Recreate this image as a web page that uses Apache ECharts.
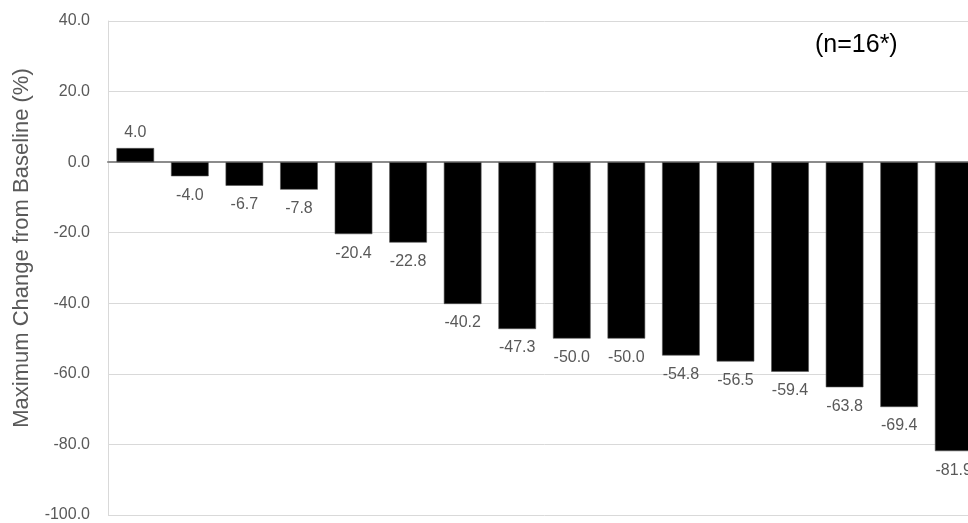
<!DOCTYPE html>
<html>
<head>
<meta charset="utf-8">
<script src="https://cdn.jsdelivr.net/npm/echarts@6/dist/echarts.min.js"></script>
<style>
html,body{margin:0;padding:0;background:#fff;overflow:hidden;width:968px;height:523px;}
#chart{width:982px;height:523px;}
</style>
</head>
<body>
<div id="chart"></div>
<script>
const patients = ['1','2','3','4','5','6','7','8','9','10','11','12','13','14','15','16'];
const changes = [4.0, -4.0, -6.7, -7.8, -20.4, -22.8, -40.2, -47.3, -50.0, -50.0, -54.8, -56.5, -59.4, -63.8, -69.4, -81.9];
const yTicks = { min: -100, max: 40, step: 20 };
const yTitle = 'Maximum Change from Baseline (%)';
const noteText = '(n=16*)';

const chart = echarts.init(document.getElementById('chart'), null, { renderer: 'canvas' });
const font = 'Liberation Sans, Arial, sans-serif';
chart.setOption({
  animation: false,
  backgroundColor: '#ffffff',
  grid: { left: 108, right: 1, top: 21, bottom: 7, containLabel: false },
  xAxis: {
    type: 'category',
    data: patients,
    axisLine: { onZero: true, lineStyle: { color: '#8c8c8c', width: 2 } },
    axisTick: { show: false },
    axisLabel: { show: false },
    splitLine: { show: false }
  },
  yAxis: {
    type: 'value',
    min: yTicks.min, max: yTicks.max, interval: yTicks.step,
    axisLine: { show: true, lineStyle: { color: '#d9d9d9', width: 1 } },
    axisTick: { show: false },
    axisLabel: {
      color: '#595959', fontSize: 16, fontFamily: font, margin: 18,
      formatter: v => v.toFixed(1)
    },
    splitLine: { show: true, lineStyle: { color: '#d9d9d9', width: 1 } }
  },
  series: [{
    type: 'bar',
    data: changes.map(v => ({
      value: v,
      label: { position: v >= 0 ? 'top' : 'bottom', distance: v >= 0 ? 7 : 11 }
    })),
    barWidth: '69%',
    itemStyle: { color: '#000000', borderColor: '#555555', borderWidth: 0.6 },
    label: {
      show: true,
      color: '#595959',
      fontSize: 16,
      fontFamily: font,
      formatter: p => p.value.toFixed(1)
    }
  }],
  graphic: [{
    type: 'text',
    x: 22,
    y: 248,
    rotation: Math.PI / 2,
    style: { text: yTitle, fill: '#595959', font: '22px ' + font, align: 'center', verticalAlign: 'middle' }
  }, {
    type: 'text',
    left: 815,
    top: 33,
    style: { text: noteText, fill: '#000000', font: '25px ' + font }
  }]
});
</script>
</body>
</html>
